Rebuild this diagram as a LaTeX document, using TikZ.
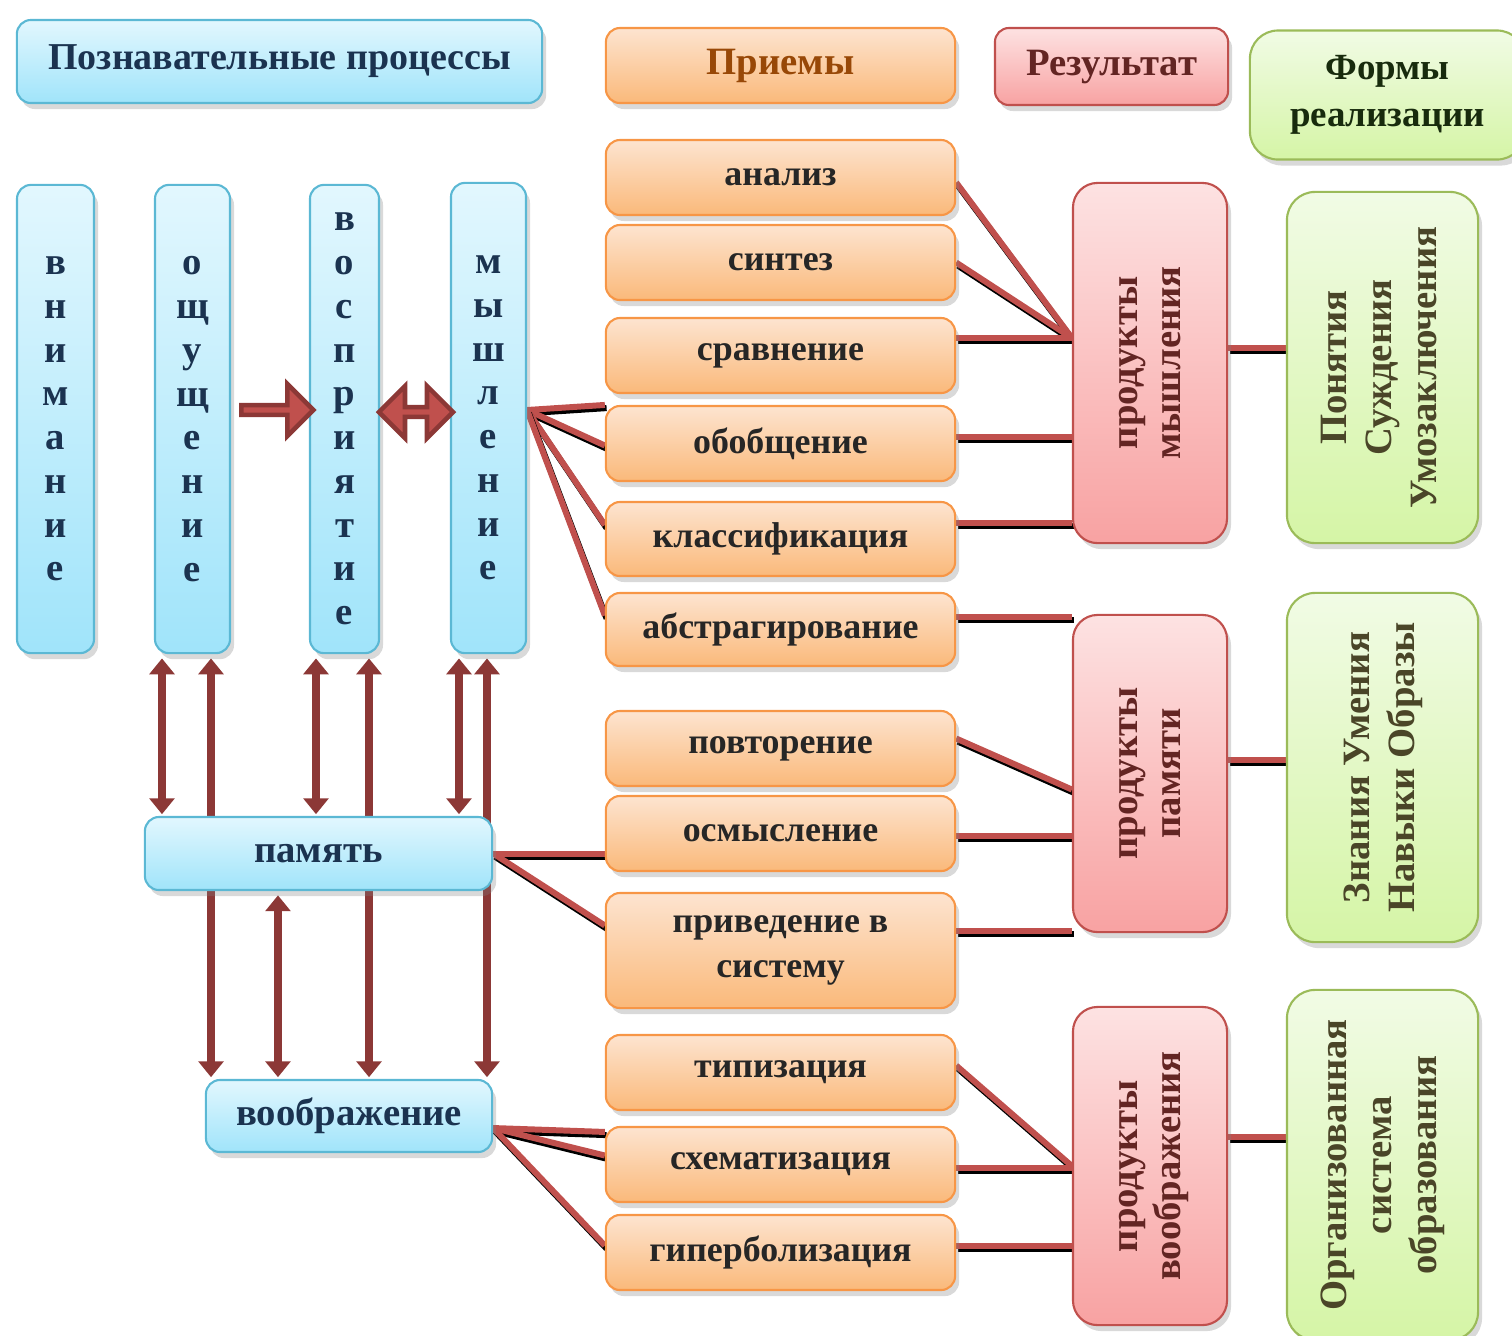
\documentclass[tikz,border=0pt]{standalone}
\usepackage{fontspec}
\setmainfont{Liberation Serif}
\usepackage{graphicx}
\usetikzlibrary{arrows.meta, shadows, shapes.arrows, backgrounds}

\definecolor{procedge}{HTML}{5BB8D4}
\definecolor{proctop}{HTML}{E2F7FE}
\definecolor{procbot}{HTML}{A0E4FA}
\definecolor{procfont}{HTML}{1B3350}
\definecolor{methedge}{HTML}{F79646}
\definecolor{methtop}{HTML}{FDE4D0}
\definecolor{methbot}{HTML}{FAB97A}
\definecolor{methfont}{HTML}{984807}
\definecolor{resedge}{HTML}{C0504D}
\definecolor{restop}{HTML}{FDE2E2}
\definecolor{resbot}{HTML}{F8A2A2}
\definecolor{resfont}{HTML}{632523}
\definecolor{formedge}{HTML}{9BBB59}
\definecolor{formtop}{HTML}{F1FBE5}
\definecolor{formbot}{HTML}{D5F5A6}
\definecolor{formfont}{HTML}{4A4528}
\definecolor{linkred}{HTML}{C0504D}
\definecolor{arrowdark}{HTML}{8C3836}

\begin{document}
\begin{tikzpicture}[
  x=0.01cm, y=-0.01cm,
  procbox/.style={
    rectangle,
    draw=procedge,
    line width=0.6pt,
    top color=proctop,
    bottom color=procbot,
    rounded corners=4pt,
    drop shadow={opacity=0.3, shadow xshift=0.4mm, shadow yshift=-0.6mm},
    text=procfont,
    font=\fontsize{11}{12.45}\selectfont\bfseries,
    align=center,
    inner sep=0pt
  },
  methbox/.style={
    rectangle,
    draw=methedge,
    line width=0.6pt,
    top color=methtop,
    bottom color=methbot,
    rounded corners=4pt,
    drop shadow={opacity=0.3, shadow xshift=0.4mm, shadow yshift=-0.6mm},
    minimum width=3.49cm,
    minimum height=0.75cm,
    text=black!85,
    font=\fontsize{10.2}{12.8}\selectfont\bfseries,
    align=center,
    inner sep=0pt
  },
  resbox/.style={
    rectangle,
    draw=resedge,
    line width=0.6pt,
    top color=restop,
    bottom color=resbot,
    rounded corners=7pt,
    drop shadow={opacity=0.3, shadow xshift=0.4mm, shadow yshift=-0.6mm},
    text=resfont,
    font=\fontsize{11}{12.3}\selectfont\bfseries,
    align=center,
    inner sep=0pt
  },
  formbox/.style={
    rectangle,
    draw=formedge,
    line width=0.6pt,
    top color=formtop,
    bottom color=formbot,
    rounded corners=8pt,
    drop shadow={opacity=0.3, shadow xshift=0.4mm, shadow yshift=-0.6mm},
    text=formfont,
    font=\fontsize{11}{12.8}\selectfont\bfseries,
    align=center,
    inner sep=0pt
  },
  link/.style={
    draw=linkred,
    line width=1.7pt,
    preaction={draw=black, line width=1.7pt, transform canvas={shift={(0.5pt,-0.9pt)}}}
  },
  duplex/.style={
    draw=arrowdark,
    line width=2.5pt,
    {Triangle[width=7pt,length=4.5pt]}-{Triangle[width=7pt,length=4.5pt]},
    shorten <=1.2pt, shorten >=0.5pt
  },
  fatarrow/.style={
    fill=linkred,
    draw=arrowdark,
    line width=1.3pt,
    minimum width=0.52cm,
    inner sep=0pt
  }
]
\useasboundingbox (0,0) rectangle (1512,1335);

% Header row
\node[procbox, minimum width=5.25cm, minimum height=0.83cm, font=\fontsize{10.8}{12}\selectfont\bfseries] (title) at (279.5,61.5) {Познавательные процессы};
\node[methbox, text=methfont, font=\fontsize{11}{12.8}\selectfont\bfseries] (priemy) at (780.5,65.5) {Приемы};
\node[resbox, rounded corners=4pt, minimum width=2.33cm, minimum height=0.77cm] (rezult) at (1111.5,66.5) {Результат};
\node[formbox, minimum width=2.75cm, minimum height=1.29cm, font=\fontsize{10.5}{13.5}\selectfont\bfseries, text=formfont!80!green!40!black] (formy) at (1387.5,95) {Формы\\реализации};

% Cognitive processes
\node[procbox, minimum width=0.77cm, minimum height=4.68cm] (vnim) at (55.5,419) {в\\н\\и\\м\\а\\н\\и\\е};
\node[procbox, minimum width=0.75cm, minimum height=4.68cm] (oshch) at (192.5,419) {о\\щ\\у\\щ\\е\\н\\и\\е};
\node[procbox, minimum width=0.69cm, minimum height=4.68cm] (vospr) at (344.5,419) {в\\о\\с\\п\\р\\и\\я\\т\\и\\е};
\node[procbox, minimum width=0.75cm, minimum height=4.70cm] (mysh) at (488.5,418) {м\\ы\\ш\\л\\е\\н\\и\\е};
\node[procbox, minimum width=3.47cm, minimum height=0.73cm] (pam) at (318.5,853.5) {память};
\node[procbox, minimum width=2.86cm, minimum height=0.72cm] (voobr) at (349,1116) {воображение};

% Block arrows between processes
\node[fatarrow, single arrow, single arrow head extend=0.1cm, minimum height=0.72cm] (senstoper) at (275,410) {};
\node[fatarrow, double arrow, double arrow head extend=0.1cm, minimum height=0.74cm] (pertothink) at (416,412) {};

% Methods
\node[methbox] (analiz) at (780.5,177.5) {анализ};
\node[methbox] (sintez) at (780.5,262.5) {синтез};
\node[methbox] (sravn) at (780.5,355.5) {сравнение};
\node[methbox] (obobsch) at (780.5,443.5) {обобщение};
\node[methbox, minimum height=0.74cm] (klass) at (780.5,539) {классификация};
\node[methbox, minimum height=0.73cm] (abstr) at (780.5,629.5) {абстрагирование};
\node[methbox] (povt) at (780.5,748.5) {повторение};
\node[methbox] (osmysl) at (780.5,833.5) {осмысление};
\node[methbox, minimum height=1.15cm] (priv) at (780.5,950.5) {приведение в\\систему};
\node[methbox] (tipiz) at (780.5,1072.5) {типизация};
\node[methbox] (skhem) at (780.5,1164.5) {схематизация};
\node[methbox] (giperb) at (780.5,1252.5) {гиперболизация};

% Results
\node[resbox, minimum width=1.54cm, minimum height=3.60cm] (prodmysh) at (1150,363) {\rotatebox{90}{\begin{tabular}{@{}c@{}}продукты\\мышления\end{tabular}}};
\node[resbox, minimum width=1.54cm, minimum height=3.17cm] (prodpam) at (1150,773.5) {\rotatebox{90}{\begin{tabular}{@{}c@{}}продукты\\памяти\end{tabular}}};
\node[resbox, minimum width=1.54cm, minimum height=3.18cm] (prodvoobr) at (1150,1166) {\rotatebox{90}{\begin{tabular}{@{}c@{}}продукты\\воображения\end{tabular}}};

% Forms of realisation
\node[formbox, minimum width=1.91cm, minimum height=3.51cm] (formmysh) at (1382.5,367.5) {\rotatebox{90}{\begin{tabular}{@{}c@{}}Понятия\\Суждения\\Умозаключения\end{tabular}}};
\node[formbox, minimum width=1.91cm, minimum height=3.49cm] (formpam) at (1382.5,767.5) {\rotatebox{90}{\begin{tabular}{@{}c@{}}Знания Умения\\Навыки Образы\end{tabular}}};
\node[formbox, minimum width=1.91cm, minimum height=3.50cm] (formvoobr) at (1382.5,1165) {\rotatebox{90}{\begin{tabular}{@{}c@{}}Организованная\\система\\образования\end{tabular}}};

\begin{scope}[on background layer]
% Links between processes
\draw[duplex] ([xshift=-3.05mm]oshch.south) -- ([xshift=-3.05mm]oshch.south |- pam.north);
\draw[duplex] ([xshift=1.85mm]oshch.south) -- ([xshift=1.85mm]oshch.south |- voobr.north);
\draw[duplex] ([xshift=-2.85mm]vospr.south) -- ([xshift=-2.85mm]vospr.south |- pam.north);
\draw[duplex] ([xshift=2.45mm]vospr.south) -- ([xshift=2.45mm]vospr.south |- voobr.north);
\draw[duplex] ([xshift=-2.95mm]mysh.south) -- ([xshift=-2.95mm]mysh.south |- pam.north);
\draw[duplex] ([xshift=-0.15mm]mysh.south) -- ([xshift=-0.15mm]mysh.south |- voobr.north);
\draw[duplex] ([xshift=-4.05mm]pam.south) -- ([xshift=-4.05mm]pam.south |- voobr.north);

% Thinking and its methods
\coordinate (mhub) at ([yshift=2.5mm]prodmysh.west);
\draw[link] ([yshift=0.8mm]mysh.east) -- (obobsch.north west);
\draw[link] ([yshift=0.8mm]mysh.east) -- ([yshift=-0.2mm]obobsch.west);
\draw[link] ([yshift=0.8mm]mysh.east) -- ([yshift=1.4mm]klass.west);
\draw[link] ([yshift=0.8mm]mysh.east) -- ([yshift=1.4mm]abstr.west);
\draw[link] ([yshift=-0.5mm]analiz.east) -- (mhub);
\draw[link] (sintez.east) -- (mhub);
\draw[link] (sravn.east |- mhub) -- (mhub);
\draw[link] ([yshift=0.7mm]obobsch.east) -- ([yshift=0.7mm]obobsch.east -| prodmysh.west);
\draw[link] ([yshift=1.6mm]klass.east) -- ([yshift=1.6mm]klass.east -| prodmysh.west);
\draw[link] ([yshift=1.3mm]abstr.east) -- ([yshift=1.3mm]abstr.east -| prodpam.west);
\draw[link] ([yshift=1.5mm]prodmysh.east) -- ([yshift=1.5mm]prodmysh.east -| formmysh.west);

% Memory and its methods
\draw[link] (pam.east) -- (pam.east -| osmysl.west);
\draw[link] (pam.east) -- ([yshift=2.5mm]priv.west);
\draw[link] ([yshift=1mm]povt.east) -- ([yshift=-1.6mm]prodpam.west);
\draw[link] ([yshift=-0.2mm]osmysl.east) -- ([yshift=-0.2mm]osmysl.east -| prodpam.west);
\draw[link] ([yshift=2mm]priv.east) -- ([yshift=2mm]priv.east -| prodpam.west);
\draw[link] ([yshift=1.4mm]prodpam.east) -- ([yshift=1.4mm]prodpam.east -| formpam.west);

% Imagination and its methods
\draw[link] ([yshift=-1.2mm]voobr.east) -- ([yshift=-0.6mm]skhem.north west);
\draw[link] ([yshift=-1.2mm]voobr.east) -- ([yshift=0.9mm]skhem.west);
\draw[link] ([yshift=-1.2mm]voobr.east) -- ([yshift=0.7mm]giperb.west);
\draw[link] ([yshift=0.7mm]tipiz.east) -- (prodvoobr.west);
\draw[link] ([yshift=-0.3mm]skhem.east) -- ([yshift=-0.3mm]skhem.east -| prodvoobr.west);
\draw[link] ([yshift=0.7mm]giperb.east) -- ([yshift=0.7mm]giperb.east -| prodvoobr.west);
\draw[link] ([yshift=2.9mm]prodvoobr.east) -- ([yshift=2.9mm]prodvoobr.east -| formvoobr.west);
\end{scope}
\end{tikzpicture}
\end{document}
